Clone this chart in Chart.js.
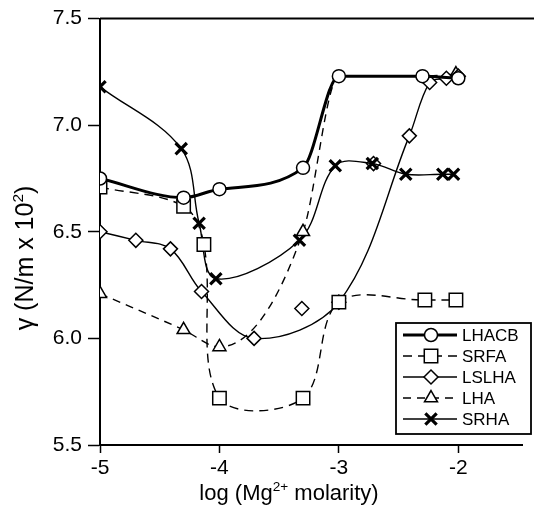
<!DOCTYPE html>
<html>
<head>
<meta charset="utf-8">
<script src="https://cdn.jsdelivr.net/npm/chart.js@4/dist/chart.umd.min.js"></script>
<style>
  body { margin: 0; background: #fff; }
  canvas { display: block; }
</style>
</head>
<body>
<canvas id="chart" width="534" height="511"></canvas>
<script>
// values (x = log Mg2+ molarity, y = gamma)
const seriesNames = ['LHACB', 'SRFA', 'LSLHA', 'LHA', 'SRHA'];

const lhacbX = [-5, -4.3, -4, -3.3, -3, -2.3, -2];
const lhacbY = [6.75, 6.66, 6.70, 6.80, 7.23, 7.23, 7.22];

const srfaX = [-5, -4.3, -4.13, -4, -3.3, -3, -2.28, -2.02];
const srfaY = [6.71, 6.62, 6.44, 5.72, 5.72, 6.17, 6.18, 6.18];

const lslhaX = [-5, -4.7, -4.41, -4.15, -3.71, -3, -2.41, -2.24, -2.1, -2];
const lslhaY = [6.50, 6.46, 6.42, 6.22, 6.00, 6.17, 6.95, 7.20, 7.22, 7.23];
// diamonds that sit off the fitted curve
const lslhaStrayX = [-3.31, -2.71];
const lslhaStrayY = [6.14, 6.82];

const lhaX = [-5, -4.3, -4, -3.3, -3, -2.3, -2.02];
const lhaY = [6.21, 6.04, 5.96, 6.50, 7.23, 7.23, 7.24];

const srhaX = [-5, -4.32, -4.17, -4.03, -3.33, -3.03, -2.72, -2.44, -2.13, -2.04];
const srhaY = [7.18, 6.89, 6.54, 6.28, 6.46, 6.81, 6.82, 6.77, 6.77, 6.77];

const xTicks = [-5, -4, -3, -2];

const pts = (xs, ys) => xs.map((x, i) => ({ x: x, y: ys[i] }));
const FONT = '"Liberation Sans", Arial, sans-serif';

const datasets = [
  {
    label: seriesNames[0], data: pts(lhacbX, lhacbY), cubicInterpolationMode: 'monotone',
    borderWidth: 3, pointStyle: 'circle', pointRadius: 6.5, pointBorderWidth: 1.5
  },
  {
    label: seriesNames[1], data: pts(srfaX, srfaY),
    borderWidth: 1.4, borderDash: [9, 6], pointStyle: 'rect', pointRadius: 9.5, pointBorderWidth: 1.5
  },
  {
    label: seriesNames[2], data: pts(lslhaX, lslhaY),
    borderWidth: 1.4, pointStyle: 'rectRot', pointRadius: 7, pointBorderWidth: 1.5
  },
  {
    label: seriesNames[3], data: pts(lhaX, lhaY), cubicInterpolationMode: 'monotone',
    borderWidth: 1.4, borderDash: [8, 6], pointStyle: 'triangle', pointRadius: [7.5, 7.5, 7.5, 7.5, 0, 0, 7.5], pointBorderWidth: 1.5
  },
  {
    label: seriesNames[4], data: pts(srhaX, srhaY),
    borderWidth: 1.4, pointStyle: 'crossRot', pointRadius: 8, pointBorderWidth: 3.2
  },
  {
    label: '', data: pts(lslhaStrayX, lslhaStrayY), showLine: false,
    pointStyle: 'rectRot', pointRadius: 7, pointBorderWidth: 1.5
  }
];
datasets.forEach(d => {
  d.borderColor = '#000';
  d.pointBorderColor = '#000';
  d.pointBackgroundColor = '#fff';
  d.tension = 0.35;
  d.fill = false;
});

// text with superscripts, drawn piece by piece
function drawRich(ctx, parts, size) {
  let x = 0;
  parts.forEach(p => {
    ctx.font = (p.sup ? size * 0.62 : size) + 'px ' + FONT;
    ctx.fillText(p.t, x, p.sup ? -size * 0.4 : 0);
    x += ctx.measureText(p.t).width;
  });
}
function richWidth(ctx, parts, size) {
  let w = 0;
  parts.forEach(p => {
    ctx.font = (p.sup ? size * 0.62 : size) + 'px ' + FONT;
    w += ctx.measureText(p.t).width;
  });
  return w;
}

const extras = {
  id: 'extras',
  afterDraw(chart) {
    const ctx = chart.ctx;
    const a = chart.chartArea;
    ctx.save();
    // top frame line
    ctx.strokeStyle = '#000';
    ctx.lineWidth = 2;
    ctx.beginPath();
    ctx.moveTo(a.left, a.top);
    ctx.lineTo(chart.width, a.top);
    ctx.stroke();

    // axis titles
    ctx.fillStyle = '#000';
    ctx.textBaseline = 'alphabetic';
    ctx.textAlign = 'left';
    const xt = [{ t: 'log (Mg' }, { t: '2+', sup: true }, { t: ' molarity)' }];
    const xs = 22;
    ctx.save();
    ctx.translate(289 - richWidth(ctx, xt, xs) / 2, 500);
    drawRich(ctx, xt, xs);
    ctx.restore();

    const yt = [{ t: 'γ (N/m x 10' }, { t: '2', sup: true }, { t: ')' }];
    const ys = 25;
    ctx.save();
    ctx.translate(33, 258 + richWidth(ctx, yt, ys) / 2);
    ctx.rotate(-Math.PI / 2);
    drawRich(ctx, yt, ys);
    ctx.restore();

    // legend box
    const bx = 396, by = 323, bw = 135, bh = 111;
    ctx.fillStyle = '#fff';
    ctx.fillRect(bx, by, bw, bh);
    ctx.lineWidth = 1.8;
    ctx.strokeRect(bx, by, bw, bh);
    seriesNames.forEach((name, i) => {
      const ds = chart.data.datasets[i];
      const y = 335 + i * 21;
      ctx.strokeStyle = '#000';
      ctx.lineWidth = ds.borderWidth;
      ctx.setLineDash(ds.borderDash || []);
      ctx.beginPath();
      ctx.moveTo(403, y);
      ctx.lineTo(457, y);
      ctx.stroke();
      ctx.setLineDash([]);
      ctx.fillStyle = '#fff';
      ctx.lineWidth = ds.pointBorderWidth;
      const r = Array.isArray(ds.pointRadius) ? ds.pointRadius[0] : ds.pointRadius;
      Chart.helpers.drawPoint(ctx, { pointStyle: ds.pointStyle, radius: r, rotation: 0, borderWidth: ds.pointBorderWidth }, 431, y);
      ctx.fillStyle = '#000';
      ctx.font = '17px ' + FONT;
      ctx.textBaseline = 'middle';
      ctx.fillText(name, 462, y + 1);
    });
    ctx.restore();
  }
};

new Chart(document.getElementById('chart'), {
  type: 'line',
  data: { datasets: datasets },
  options: {
    responsive: false,
    animation: false,
    layout: { padding: { top: 17, right: 0, left: 0, bottom: 0 } },
    plugins: { legend: { display: false }, tooltip: { enabled: false } },
    scales: {
      x: {
        type: 'linear',
        min: -5,
        max: -1.46,
        afterBuildTicks: s => { s.ticks = xTicks.map(v => ({ value: v })); },
        afterFit: s => { s.height = 66; },
        grid: { drawOnChartArea: false, tickLength: 8, tickColor: '#000', tickWidth: 1.5 },
        border: { color: '#000', width: 2 },
        ticks: { color: '#000', font: { family: FONT, size: 21 }, padding: 3, maxRotation: 0, callback: v => String(v) }
      },
      y: {
        min: 5.5,
        max: 7.5,
        afterFit: s => { s.width = 100; },
        grid: { drawOnChartArea: false, tickLength: 12, tickColor: '#000', tickWidth: 1.5 },
        border: { color: '#000', width: 2 },
        ticks: { stepSize: 0.5, color: '#000', font: { family: FONT, size: 21 }, padding: 6, callback: v => v.toFixed(1) }
      }
    }
  },
  plugins: [extras]
});
</script>
</body>
</html>
